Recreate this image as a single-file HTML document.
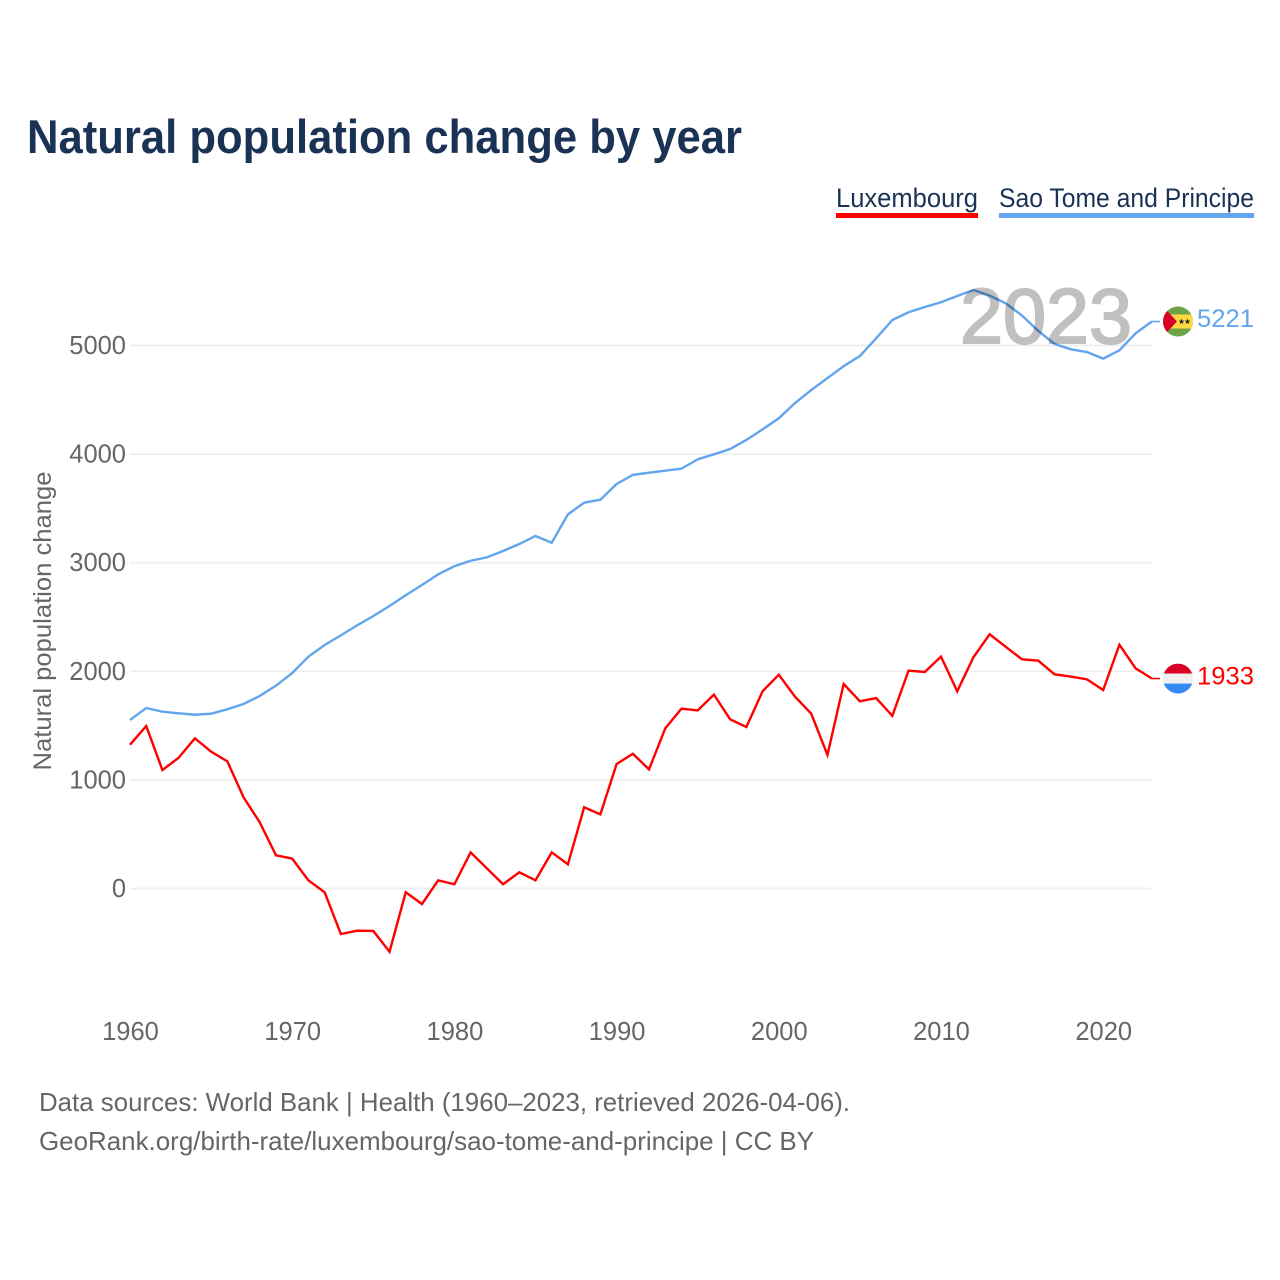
<!DOCTYPE html>
<html lang="en">
<head>
<meta charset="utf-8">
<title>Natural population change by year</title>
<style>
html,body{margin:0;padding:0;background:#fff}
svg{display:block;font-family:"Liberation Sans",sans-serif}
</style>
</head>
<body>
<svg id="chart" width="1280" height="1280" viewBox="0 0 1280 1280" xmlns="http://www.w3.org/2000/svg">
  <rect width="1280" height="1280" fill="#fff"/>
  <text x="27" y="153" font-size="47" font-weight="700" fill="#1a3354" textLength="715" lengthAdjust="spacingAndGlyphs">Natural population change by year</text>

  <g>
    <text x="836" y="207" font-size="27" fill="#1a3354" textLength="142" lengthAdjust="spacingAndGlyphs">Luxembourg</text>
    <rect x="836" y="213" width="142" height="5" fill="#ff0000"/>
  </g>
  <g>
    <text x="999" y="207" font-size="27" fill="#1a3354" textLength="255" lengthAdjust="spacingAndGlyphs">Sao Tome and Principe</text>
    <rect x="999" y="213" width="255" height="5" fill="#62a5ed"/>
  </g>

  <g id="grid"></g>
  <g id="yticks"></g>
  <g id="xticks"></g>
  <text transform="translate(51,621) rotate(-90)" text-anchor="middle" font-size="25" fill="#666" textLength="299" lengthAdjust="spacingAndGlyphs">Natural population change</text>

  <g id="series"></g>

  <text x="960" y="343" font-size="78" font-weight="400" fill="#c0c0c0" stroke="#c0c0c0" stroke-width="2" textLength="172" lengthAdjust="spacingAndGlyphs" style="mix-blend-mode:multiply">2023</text>

  <defs>
    <clipPath id="flag-clip"><circle cx="0" cy="0" r="15"/></clipPath>
  </defs>
  <g id="flag-stp">
    <g clip-path="url(#flag-clip)">
      <rect x="-15" y="-15" width="30" height="30" fill="#6da544"/>
      <rect x="-15" y="-7" width="30" height="14" fill="#ffda44"/>
      <polygon points="-15,-15 -1,0 -15,15" fill="#d80027"/>
      <polygon transform="translate(3.5,0)" points="0,-3 0.8,-0.9 3,-0.9 1.2,0.4 1.9,2.6 0,1.3 -1.9,2.6 -1.2,0.4 -3,-0.9 -0.8,-0.9" fill="#222"/>
      <polygon transform="translate(9.5,0)" points="0,-3 0.8,-0.9 3,-0.9 1.2,0.4 1.9,2.6 0,1.3 -1.9,2.6 -1.2,0.4 -3,-0.9 -0.8,-0.9" fill="#222"/>
    </g>
  </g>
  <g id="flag-lux">
    <g clip-path="url(#flag-clip)">
      <rect x="-15" y="-15" width="30" height="10" fill="#d80027"/>
      <rect x="-15" y="-5" width="30" height="10" fill="#f0f0f0"/>
      <rect x="-15" y="5" width="30" height="10" fill="#338af3"/>
    </g>
  </g>
  <text id="label-stp" x="1197" font-size="25" fill="#62a5ed" textLength="57" lengthAdjust="spacingAndGlyphs"></text>
  <text id="label-lux" x="1197" font-size="25" fill="#ff0000" textLength="57" lengthAdjust="spacingAndGlyphs"></text>

  <text x="39" y="1111" font-size="26" fill="#666" textLength="811" lengthAdjust="spacingAndGlyphs">Data sources: World Bank | Health (1960–2023, retrieved 2026-04-06).</text>
  <text x="39" y="1150" font-size="26" fill="#666" textLength="775" lengthAdjust="spacingAndGlyphs">GeoRank.org/birth-rate/luxembourg/sao-tome-and-principe | CC BY</text>
</svg>
<script>
const startYear = 1960;
const yTickValues = [0, 1000, 2000, 3000, 4000, 5000];
const xTickValues = [1960, 1970, 1980, 1990, 2000, 2010, 2020];
const luxembourgValues = [1324,1496,1091,1204,1383,1260,1171,840,609,306,275,75,-35,-419,-388,-391,-582,-35,-143,75,39,333,186,39,149,75,333,223,748,683,1146,1241,1097,1475,1656,1640,1785,1558,1487,1816,1969,1766,1610,1230,1883,1724,1754,1590,2006,1994,2135,1816,2129,2341,2224,2110,2098,1972,1951,1926,1828,2245,2027,1933];
const saoTomeValues = [1552,1662,1628,1613,1600,1610,1650,1699,1773,1868,1984,2135,2242,2331,2423,2509,2601,2700,2795,2893,2967,3018,3049,3108,3172,3246,3184,3445,3553,3580,3725,3808,3829,3847,3866,3952,3998,4047,4130,4228,4330,4470,4590,4700,4810,4903,5066,5235,5306,5354,5398,5456,5511,5459,5388,5275,5134,5014,4965,4940,4879,4956,5112,5221];

const NS = 'http://www.w3.org/2000/svg';
const xScale = function (year) { return 130 + (year - startYear) * 16.22; };
const yScale = function (v) { return 888.5 - v * 0.1086; };
const plotRight = xScale(2023);

function svgEl(tag, parent) {
  const el = document.createElementNS(NS, tag);
  parent.appendChild(el);
  return el;
}

const gridG = document.getElementById('grid');
const yG = document.getElementById('yticks');
const xG = document.getElementById('xticks');
const seriesG = document.getElementById('series');

yTickValues.forEach(function (v) {
  const line = svgEl('line', gridG);
  
  
  line.setAttribute('x1', 130);
  line.setAttribute('x2', plotRight);
  line.setAttribute('y1', yScale(v));
  line.setAttribute('y2', yScale(v));
  line.setAttribute('stroke', '#eeeeee');
  line.setAttribute('stroke-width', 1.7);

  const t = svgEl('text', yG);
  
  
  t.setAttribute('x', 126);
  t.setAttribute('y', yScale(v) + 8.5);
  t.setAttribute('text-anchor', 'end');
  t.setAttribute('font-size', 25.5);
  t.setAttribute('fill', '#666');
  t.textContent = String(v);
});

xTickValues.forEach(function (year) {
  const t = svgEl('text', xG);
  
  
  t.setAttribute('x', xScale(year) + 0.5);
  t.setAttribute('y', 1040);
  t.setAttribute('text-anchor', 'middle');
  t.setAttribute('font-size', 25.5);
  t.setAttribute('fill', '#666');
  t.textContent = String(year);
});

function drawSeries(values, color, name) {
  const pts = values.map(function (v, i) {
    return xScale(startYear + i).toFixed(2) + ',' + yScale(v).toFixed(2);
  });
  const line = svgEl('polyline', seriesG);
  
  
  line.setAttribute('points', pts.join(' '));
  line.setAttribute('fill', 'none');
  line.setAttribute('stroke', color);
  line.setAttribute('stroke-width', 2.4);
  line.setAttribute('stroke-linejoin', 'miter');

  const lastY = yScale(values[values.length - 1]);
  const stub = svgEl('line', seriesG);
  
  
  stub.setAttribute('x1', plotRight);
  stub.setAttribute('x2', 1160);
  stub.setAttribute('y1', lastY);
  stub.setAttribute('y2', lastY);
  stub.setAttribute('stroke', color);
  stub.setAttribute('stroke-width', 1.5);
  return lastY;
}

const luxY = drawSeries(luxembourgValues, '#ff0000', 'line-luxembourg');
const stpY = drawSeries(saoTomeValues, '#62a5ed', 'line-sao-tome');

document.getElementById('flag-stp').setAttribute('transform', 'translate(1178,' + stpY + ')');
document.getElementById('flag-lux').setAttribute('transform', 'translate(1178,' + luxY + ')');
const stpLabel = document.getElementById('label-stp');
stpLabel.setAttribute('y', stpY + 5.7);
stpLabel.textContent = String(saoTomeValues[saoTomeValues.length - 1]);
const luxLabel = document.getElementById('label-lux');
luxLabel.setAttribute('y', luxY + 6);
luxLabel.textContent = String(luxembourgValues[luxembourgValues.length - 1]);
</script>
</body>
</html>
